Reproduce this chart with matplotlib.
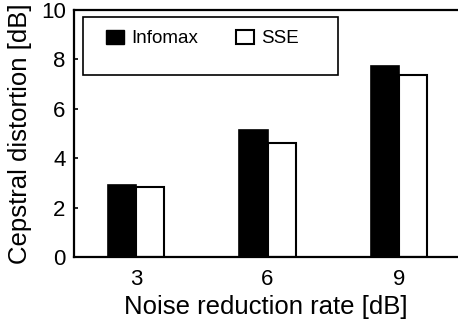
import numpy as np
import matplotlib.pyplot as plt
from matplotlib.patches import Rectangle, Patch

plt.rcParams['font.family'] = ['Liberation Sans', 'DejaVu Sans']

rates = [3, 6, 9]
infomax = [2.92, 5.14, 7.73]
sse = [2.85, 4.63, 7.37]

fig = plt.figure(figsize=(4.58, 3.24), dpi=100)
ax = fig.add_axes([0.1616, 0.2068, 0.8384, 0.7623])

x = np.array(rates, dtype=float)
w = 0.64
ax.bar(x - w / 2, infomax, w, color="black", edgecolor="black", linewidth=1.2)
ax.bar(x + w / 2, sse, w, color="white", edgecolor="black", linewidth=1.5)

ax.set_xlim(1.59, 10.34)
ax.set_ylim(0, 10)
ax.set_xticks(rates)
ax.set_yticks([0, 2, 4, 6, 8, 10])
ax.tick_params(axis="x", length=0, pad=9, labelsize=16)
ax.tick_params(axis="y", direction="in", length=3, width=1.2, pad=6, labelsize=16)

for s in ["left", "bottom", "top"]:
    ax.spines[s].set_linewidth(1.6)
ax.spines["right"].set_visible(False)

ax.set_xlabel("Noise reduction rate [dB]", fontsize=18.5, labelpad=3)
ax.set_ylabel("Cepstral distortion [dB]", fontsize=18.5, labelpad=6)

# legend frame (bigger than its content)
ax.add_patch(Rectangle((0.023, 0.737), 0.665, 0.235, transform=ax.transAxes,
                       fill=False, edgecolor="black", linewidth=1.2, zorder=5))
handles = [Patch(facecolor="black", edgecolor="black", label="Infomax"),
           Patch(facecolor="white", edgecolor="black", linewidth=1.5, label="SSE")]
ax.legend(handles=handles, loc="center left", bbox_to_anchor=(0.083, 0.885),
          ncol=2, frameon=False, fontsize=13.5, borderpad=0, borderaxespad=0,
          handlelength=0.96, handleheight=0.8,
          handletextpad=0.37, columnspacing=2.05)

plt.savefig("out.png", dpi=100)
